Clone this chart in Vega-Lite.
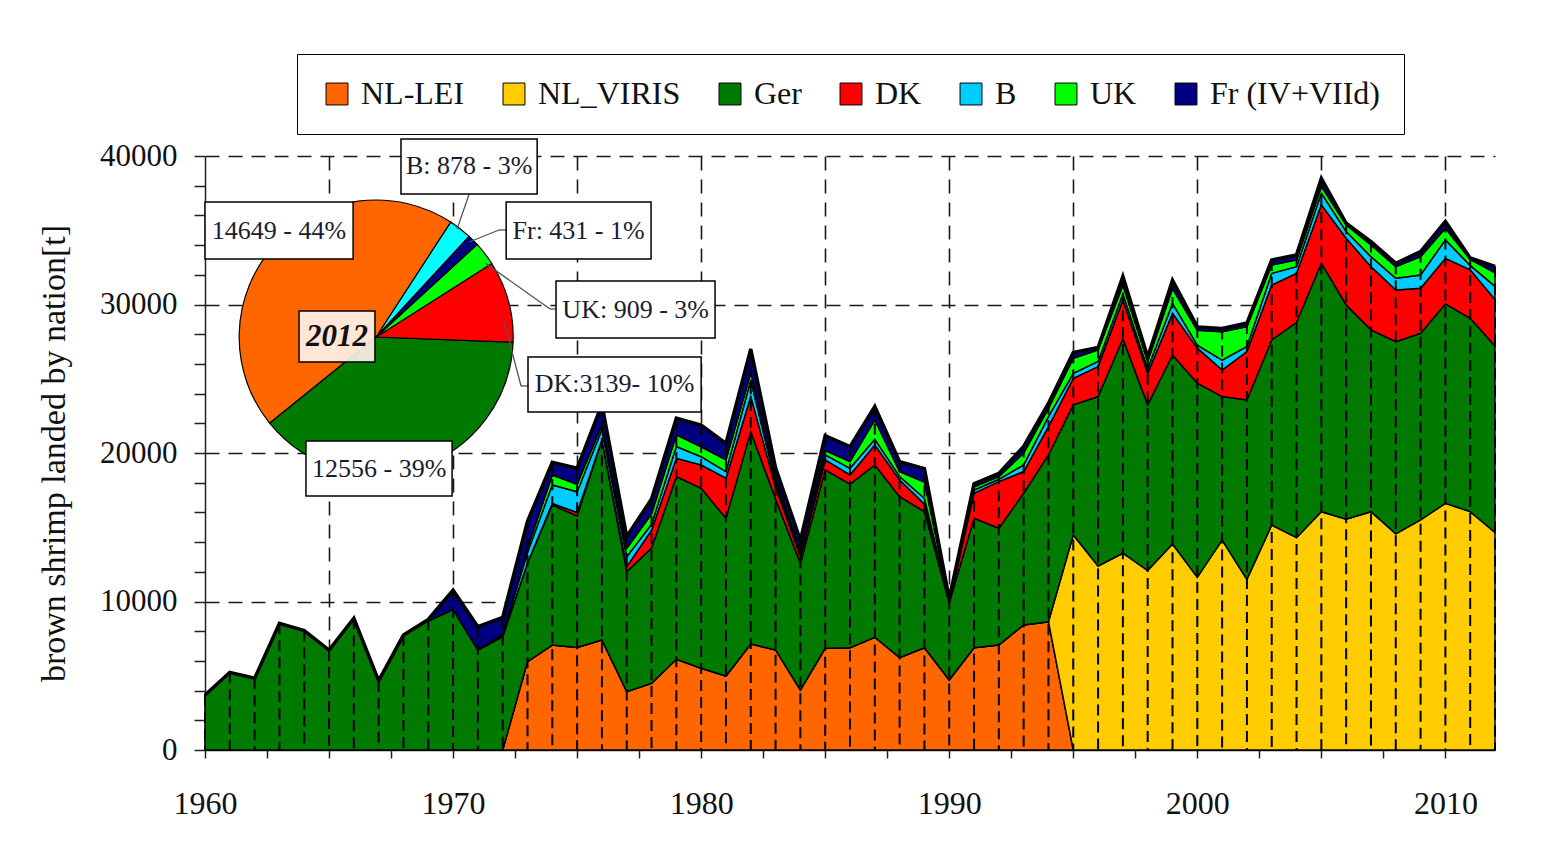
{
  "$schema": "https://vega.github.io/schema/vega-lite/v6.json",
  "width": 1290,
  "height": 594,
  "autosize": {"type": "none"},
  "padding": {"left": 205, "top": 156, "right": 62, "bottom": 99},
  "background": "white",
  "config": {"view": {"stroke": null}, "font": "Liberation Serif"},
  "data": {
    "values": [
      {"year": 1960, "NL-LEI": 0, "NL_VIRIS": 0, "Ger": 3700, "DK": 0, "B": 0, "UK": 0, "Fr (IV+VIId)": 0},
      {"year": 1961, "NL-LEI": 0, "NL_VIRIS": 0, "Ger": 5230, "DK": 0, "B": 0, "UK": 0, "Fr (IV+VIId)": 0},
      {"year": 1962, "NL-LEI": 0, "NL_VIRIS": 0, "Ger": 4830, "DK": 0, "B": 0, "UK": 0, "Fr (IV+VIId)": 0},
      {"year": 1963, "NL-LEI": 0, "NL_VIRIS": 0, "Ger": 8530, "DK": 0, "B": 0, "UK": 0, "Fr (IV+VIId)": 0},
      {"year": 1964, "NL-LEI": 0, "NL_VIRIS": 0, "Ger": 8040, "DK": 0, "B": 0, "UK": 0, "Fr (IV+VIId)": 0},
      {"year": 1965, "NL-LEI": 0, "NL_VIRIS": 0, "Ger": 6730, "DK": 0, "B": 0, "UK": 0, "Fr (IV+VIId)": 0},
      {"year": 1966, "NL-LEI": 0, "NL_VIRIS": 0, "Ger": 8870, "DK": 0, "B": 0, "UK": 0, "Fr (IV+VIId)": 0},
      {"year": 1967, "NL-LEI": 0, "NL_VIRIS": 0, "Ger": 4670, "DK": 0, "B": 0, "UK": 0, "Fr (IV+VIId)": 0},
      {"year": 1968, "NL-LEI": 0, "NL_VIRIS": 0, "Ger": 7740, "DK": 0, "B": 0, "UK": 0, "Fr (IV+VIId)": 0},
      {"year": 1969, "NL-LEI": 0, "NL_VIRIS": 0, "Ger": 8690, "DK": 0, "B": 0, "UK": 0, "Fr (IV+VIId)": 100},
      {"year": 1970, "NL-LEI": 0, "NL_VIRIS": 0, "Ger": 9470, "DK": 0, "B": 0, "UK": 0, "Fr (IV+VIId)": 1300},
      {"year": 1971, "NL-LEI": 0, "NL_VIRIS": 0, "Ger": 6730, "DK": 0, "B": 0, "UK": 0, "Fr (IV+VIId)": 1570},
      {"year": 1972, "NL-LEI": 0, "NL_VIRIS": 0, "Ger": 7630, "DK": 0, "B": 150, "UK": 0, "Fr (IV+VIId)": 1150},
      {"year": 1973, "NL-LEI": 5950, "NL_VIRIS": 0, "Ger": 6650, "DK": 0, "B": 700, "UK": 300, "Fr (IV+VIId)": 1800},
      {"year": 1974, "NL-LEI": 7070, "NL_VIRIS": 0, "Ger": 9430, "DK": 100, "B": 1250, "UK": 670, "Fr (IV+VIId)": 850},
      {"year": 1975, "NL-LEI": 6910, "NL_VIRIS": 0, "Ger": 8850, "DK": 230, "B": 1400, "UK": 500, "Fr (IV+VIId)": 1080},
      {"year": 1976, "NL-LEI": 7410, "NL_VIRIS": 0, "Ger": 13470, "DK": 0, "B": 700, "UK": 300, "Fr (IV+VIId)": 1400},
      {"year": 1977, "NL-LEI": 3930, "NL_VIRIS": 0, "Ger": 8080, "DK": 340, "B": 670, "UK": 560, "Fr (IV+VIId)": 800},
      {"year": 1978, "NL-LEI": 4490, "NL_VIRIS": 0, "Ger": 9110, "DK": 1200, "B": 400, "UK": 700, "Fr (IV+VIId)": 1000},
      {"year": 1979, "NL-LEI": 6110, "NL_VIRIS": 0, "Ger": 12300, "DK": 1230, "B": 790, "UK": 790, "Fr (IV+VIId)": 1120},
      {"year": 1980, "NL-LEI": 5500, "NL_VIRIS": 0, "Ger": 12120, "DK": 1570, "B": 560, "UK": 670, "Fr (IV+VIId)": 1460},
      {"year": 1981, "NL-LEI": 4980, "NL_VIRIS": 0, "Ger": 10620, "DK": 2700, "B": 450, "UK": 780, "Fr (IV+VIId)": 1120},
      {"year": 1982, "NL-LEI": 7140, "NL_VIRIS": 0, "Ger": 14300, "DK": 2360, "B": 1100, "UK": 500, "Fr (IV+VIId)": 1600},
      {"year": 1983, "NL-LEI": 6740, "NL_VIRIS": 0, "Ger": 10160, "DK": 800, "B": 300, "UK": 300, "Fr (IV+VIId)": 700},
      {"year": 1984, "NL-LEI": 4040, "NL_VIRIS": 0, "Ger": 8530, "DK": 450, "B": 200, "UK": 100, "Fr (IV+VIId)": 800},
      {"year": 1985, "NL-LEI": 6850, "NL_VIRIS": 0, "Ger": 12010, "DK": 670, "B": 340, "UK": 300, "Fr (IV+VIId)": 1000},
      {"year": 1986, "NL-LEI": 6890, "NL_VIRIS": 0, "Ger": 11020, "DK": 610, "B": 450, "UK": 450, "Fr (IV+VIId)": 1010},
      {"year": 1987, "NL-LEI": 7590, "NL_VIRIS": 0, "Ger": 11600, "DK": 1350, "B": 380, "UK": 1310, "Fr (IV+VIId)": 900},
      {"year": 1988, "NL-LEI": 6220, "NL_VIRIS": 0, "Ger": 10840, "DK": 1120, "B": 230, "UK": 340, "Fr (IV+VIId)": 670},
      {"year": 1989, "NL-LEI": 6890, "NL_VIRIS": 0, "Ger": 9160, "DK": 500, "B": 400, "UK": 1100, "Fr (IV+VIId)": 900},
      {"year": 1990, "NL-LEI": 4710, "NL_VIRIS": 0, "Ger": 5190, "DK": 0, "B": 100, "UK": 100, "Fr (IV+VIId)": 100},
      {"year": 1991, "NL-LEI": 6890, "NL_VIRIS": 0, "Ger": 8710, "DK": 1690, "B": 220, "UK": 220, "Fr (IV+VIId)": 200},
      {"year": 1992, "NL-LEI": 7070, "NL_VIRIS": 0, "Ger": 7860, "DK": 3140, "B": 160, "UK": 180, "Fr (IV+VIId)": 220},
      {"year": 1993, "NL-LEI": 8420, "NL_VIRIS": 0, "Ger": 8870, "DK": 1460, "B": 450, "UK": 790, "Fr (IV+VIId)": 450},
      {"year": 1994, "NL-LEI": 8640, "NL_VIRIS": 0, "Ger": 11230, "DK": 1910, "B": 670, "UK": 560, "Fr (IV+VIId)": 340},
      {"year": 1995, "NL-LEI": 0, "NL_VIRIS": 14480, "Ger": 8760, "DK": 1790, "B": 340, "UK": 1010, "Fr (IV+VIId)": 380},
      {"year": 1996, "NL-LEI": 0, "NL_VIRIS": 12390, "Ger": 11410, "DK": 2020, "B": 340, "UK": 790, "Fr (IV+VIId)": 150},
      {"year": 1997, "NL-LEI": 0, "NL_VIRIS": 13250, "Ger": 14450, "DK": 2600, "B": 400, "UK": 600, "Fr (IV+VIId)": 600},
      {"year": 1998, "NL-LEI": 0, "NL_VIRIS": 12080, "Ger": 11160, "DK": 2130, "B": 300, "UK": 500, "Fr (IV+VIId)": 300},
      {"year": 1999, "NL-LEI": 0, "NL_VIRIS": 13870, "Ger": 12730, "DK": 2800, "B": 670, "UK": 1000, "Fr (IV+VIId)": 560},
      {"year": 2000, "NL-LEI": 0, "NL_VIRIS": 11630, "Ger": 13070, "DK": 2360, "B": 200, "UK": 1000, "Fr (IV+VIId)": 230},
      {"year": 2001, "NL-LEI": 0, "NL_VIRIS": 14140, "Ger": 9660, "DK": 1790, "B": 670, "UK": 1900, "Fr (IV+VIId)": 230},
      {"year": 2002, "NL-LEI": 0, "NL_VIRIS": 11490, "Ger": 12080, "DK": 3260, "B": 340, "UK": 1350, "Fr (IV+VIId)": 230},
      {"year": 2003, "NL-LEI": 0, "NL_VIRIS": 15150, "Ger": 12460, "DK": 3700, "B": 790, "UK": 560, "Fr (IV+VIId)": 340},
      {"year": 2004, "NL-LEI": 0, "NL_VIRIS": 14300, "Ger": 14500, "DK": 3300, "B": 450, "UK": 450, "Fr (IV+VIId)": 340},
      {"year": 2005, "NL-LEI": 0, "NL_VIRIS": 16050, "Ger": 16730, "DK": 3930, "B": 790, "UK": 450, "Fr (IV+VIId)": 550},
      {"year": 2006, "NL-LEI": 0, "NL_VIRIS": 15540, "Ger": 14430, "DK": 4490, "B": 450, "UK": 450, "Fr (IV+VIId)": 110},
      {"year": 2007, "NL-LEI": 0, "NL_VIRIS": 16050, "Ger": 12240, "DK": 4260, "B": 670, "UK": 790, "Fr (IV+VIId)": 230},
      {"year": 2008, "NL-LEI": 0, "NL_VIRIS": 14550, "Ger": 12950, "DK": 3480, "B": 790, "UK": 780, "Fr (IV+VIId)": 230},
      {"year": 2009, "NL-LEI": 0, "NL_VIRIS": 15490, "Ger": 12570, "DK": 3030, "B": 900, "UK": 1230, "Fr (IV+VIId)": 340},
      {"year": 2010, "NL-LEI": 0, "NL_VIRIS": 16610, "Ger": 13430, "DK": 3070, "B": 1240, "UK": 790, "Fr (IV+VIId)": 450},
      {"year": 2011, "NL-LEI": 0, "NL_VIRIS": 16050, "Ger": 13020, "DK": 3260, "B": 300, "UK": 400, "Fr (IV+VIId)": 100},
      {"year": 2012, "NL-LEI": 0, "NL_VIRIS": 14649, "Ger": 12556, "DK": 3139, "B": 878, "UK": 909, "Fr (IV+VIId)": 431}
    ]
  },
  "layer": [
    {
      "transform": [
        {"fold": ["NL-LEI", "NL_VIRIS", "Ger", "DK", "B", "UK", "Fr (IV+VIId)"], "as": ["nation", "t"]},
        {"calculate": "indexof(['NL-LEI','NL_VIRIS','Ger','DK','B','UK','Fr (IV+VIId)'], datum.nation)", "as": "ord"}
      ],
      "mark": {"type": "area", "stroke": "black", "strokeWidth": 1.5, "strokeJoin": "miter"},
      "encoding": {
        "x": {
          "field": "year", "type": "quantitative",
          "scale": {"domain": [1960, 2012], "nice": false, "zero": false},
          "axis": {
            "values": [1960, 1962.5, 1965, 1967.5, 1970, 1972.5, 1975, 1977.5, 1980, 1982.5, 1985, 1987.5, 1990, 1992.5, 1995, 1997.5, 2000, 2002.5, 2005, 2007.5, 2010],
            "tickCount": 40,
            "format": "d",
            "labelExpr": "datum.value % 10 === 0 ? datum.label : ''",
            "title": null,
            "grid": true,
            "gridDash": [14, 9],
            "gridColor": "#1a1a1a",
            "gridWidth": 1.6,
            "gridOpacity": {"condition": {"test": "datum.value % 5 === 0 && datum.value > 1960", "value": 1}, "value": 0},
            "tickSize": 8, "tickWidth": 1.5, "tickColor": "#222",
            "domainColor": "#222", "domainWidth": 1.5,
            "labelFont": "Liberation Serif", "labelFontSize": 32, "labelColor": "#111",
            "labelPadding": 30, "labelOverlap": false, "labelFlush": false
          }
        },
        "y": {
          "field": "t", "type": "quantitative", "stack": "zero",
          "scale": {"domain": [0, 40000], "nice": false},
          "axis": {
            "values": [0, 2000, 4000, 6000, 8000, 10000, 12000, 14000, 16000, 18000, 20000, 22000, 24000, 26000, 28000, 30000, 32000, 34000, 36000, 38000, 40000],
            "tickCount": 40,
            "format": "d",
            "labelExpr": "datum.value % 10000 === 0 ? datum.label : ''",
            "title": "brown shrimp landed by nation[t]",
            "titleFont": "Liberation Serif", "titleFontSize": 34, "titleFontWeight": "normal", "titleColor": "#111",
            "titlePadding": 28,
            "grid": true,
            "gridDash": [14, 9],
            "gridColor": "#1a1a1a",
            "gridWidth": 1.6,
            "gridOpacity": {"condition": {"test": "datum.value % 10000 === 0 && datum.value > 0", "value": 1}, "value": 0},
            "tickSize": 11, "tickWidth": 1.5, "tickColor": "#222",
            "domainColor": "#222", "domainWidth": 1.5,
            "labelFont": "Liberation Serif", "labelFontSize": 31, "labelColor": "#111",
            "labelPadding": 17, "labelOverlap": false
          }
        },
        "color": {
          "field": "nation", "type": "nominal",
          "scale": {
            "domain": ["NL-LEI", "NL_VIRIS", "Ger", "DK", "B", "UK", "Fr (IV+VIId)"],
            "range": ["#FF6600", "#FFCC00", "#007A00", "#FF0000", "#00CCFF", "#00FF00", "#000080"]
          },
          "legend": {
            "orient": "none", "legendX": 92, "legendY": -102,
            "direction": "horizontal", "title": null,
            "symbolType": "square", "symbolSize": 480,
            "symbolStrokeColor": "black", "symbolStrokeWidth": 1,
            "labelFont": "Liberation Serif", "labelFontSize": 32, "labelColor": "#111",
            "labelOffset": 8, "columnPadding": 33, "labelLimit": 400,
            "padding": 24, "strokeColor": "black", "fillColor": "white"
          }
        },
        "order": {"field": "ord", "type": "quantitative", "sort": "ascending"}
      }
    },
    {
      "transform": [
        {"fold": ["NL-LEI", "NL_VIRIS", "Ger", "DK", "B", "UK", "Fr (IV+VIId)"], "as": ["nation", "t"]}
      ],
      "mark": {"type": "line", "color": "black", "strokeWidth": 3.5, "strokeJoin": "miter"},
      "encoding": {
        "x": {"field": "year", "type": "quantitative"},
        "y": {"aggregate": "sum", "field": "t", "type": "quantitative"}
      }
    },
    {
      "transform": [
        {"fold": ["NL-LEI", "NL_VIRIS", "Ger", "DK", "B", "UK", "Fr (IV+VIId)"], "as": ["nation", "t"]}
      ],
      "mark": {"type": "rule", "color": "black", "strokeWidth": 2, "strokeDash": [11, 6]},
      "encoding": {
        "x": {"field": "year", "type": "quantitative"},
        "y": {"aggregate": "sum", "field": "t", "type": "quantitative"},
        "y2": {"datum": 0}
      }
    },
    {
      "transform": [
        {"filter": "datum.year === 2012"},
        {"fold": ["NL_VIRIS", "Ger", "DK", "B", "UK", "Fr (IV+VIId)"], "as": ["nation", "t"]},
        {"calculate": "indexof(['B','Fr (IV+VIId)','UK','DK','Ger','NL_VIRIS'], datum.nation)", "as": "po"},
        {"stack": "t", "groupby": [], "sort": [{"field": "po", "order": "ascending"}], "offset": "normalize", "as": ["s0", "s1"]}
      ],
      "mark": {"type": "arc", "outerRadius": 137, "stroke": "black", "strokeWidth": 1.2},
      "encoding": {
        "x": {"datum": 1966.9, "type": "quantitative", "stack": null},
        "y": {"datum": 27810, "type": "quantitative", "stack": null},
        "theta": {"field": "s0", "type": "quantitative", "scale": {"domain": [0, 1], "range": [0.576, 6.859]}},
        "theta2": {"field": "s1"},
        "color": {
          "field": "nation", "type": "nominal",
          "scale": {
            "domain": ["NL_VIRIS", "Ger", "DK", "UK", "Fr (IV+VIId)", "B"],
            "range": ["#FF6600", "#007A00", "#FF0000", "#00FF00", "#000080", "#00FFFF"]
          },
          "legend": null
        }
      }
    },
    {"data": {"values": [{}]}, "mark": {"type": "rule", "color": "#555", "strokeWidth": 1.3},
     "encoding": {"x": {"datum": 1970.65, "type": "quantitative"}, "y": {"datum": 37441, "type": "quantitative"}, "x2": {"datum": 1970.16}, "y2": {"datum": 35084}}},
    {"data": {"values": [{}]}, "mark": {"type": "rule", "color": "#555", "strokeWidth": 1.3},
     "encoding": {"x": {"datum": 1972.14, "type": "quantitative"}, "y": {"datum": 35017, "type": "quantitative"}, "x2": {"datum": 1971.85}, "y2": {"datum": 35017}}},
    {"data": {"values": [{}]}, "mark": {"type": "rule", "color": "#555", "strokeWidth": 1.3},
     "encoding": {"x": {"datum": 1971.85, "type": "quantitative"}, "y": {"datum": 35017, "type": "quantitative"}, "x2": {"datum": 1970.65}, "y2": {"datum": 34209}}},
    {"data": {"values": [{}]}, "mark": {"type": "rule", "color": "#555", "strokeWidth": 1.3},
     "encoding": {"x": {"datum": 1974.15, "type": "quantitative"}, "y": {"datum": 29697, "type": "quantitative"}, "x2": {"datum": 1973.91}, "y2": {"datum": 29697}}},
    {"data": {"values": [{}]}, "mark": {"type": "rule", "color": "#555", "strokeWidth": 1.3},
     "encoding": {"x": {"datum": 1973.91, "type": "quantitative"}, "y": {"datum": 29697, "type": "quantitative"}, "x2": {"datum": 1971.29}, "y2": {"datum": 32795}}},
    {"data": {"values": [{}]}, "mark": {"type": "rule", "color": "#555", "strokeWidth": 1.3},
     "encoding": {"x": {"datum": 1973.02, "type": "quantitative"}, "y": {"datum": 24512, "type": "quantitative"}, "x2": {"datum": 1972.74}, "y2": {"datum": 24512}}},
    {"data": {"values": [{}]}, "mark": {"type": "rule", "color": "#555", "strokeWidth": 1.3},
     "encoding": {"x": {"datum": 1972.74, "type": "quantitative"}, "y": {"datum": 24512, "type": "quantitative"}, "x2": {"datum": 1972.06}, "y2": {"datum": 28822}}},

    {"data": {"values": [{}]}, "mark": {"type": "rect", "fill": "white", "stroke": "black", "strokeWidth": 1.5},
     "encoding": {"x": {"datum": 1960.0, "type": "quantitative"}, "x2": {"datum": 1965.97}, "y": {"datum": 36902, "type": "quantitative"}, "y2": {"datum": 33064}}},
    {"data": {"values": [{}]}, "mark": {"type": "text", "text": "14649 - 44%", "font": "Liberation Serif", "fontSize": 26, "color": "#1c1c30", "align": "center", "baseline": "middle"},
     "encoding": {"x": {"datum": 1962.98, "type": "quantitative"}, "y": {"datum": 34983, "type": "quantitative"}}},

    {"data": {"values": [{}]}, "mark": {"type": "rect", "fill": "white", "stroke": "black", "strokeWidth": 1.5},
     "encoding": {"x": {"datum": 1967.9, "type": "quantitative"}, "x2": {"datum": 1973.39}, "y": {"datum": 41145, "type": "quantitative"}, "y2": {"datum": 37441}}},
    {"data": {"values": [{}]}, "mark": {"type": "text", "text": "B: 878 - 3%", "font": "Liberation Serif", "fontSize": 26, "color": "#1c1c30", "align": "center", "baseline": "middle"},
     "encoding": {"x": {"datum": 1970.65, "type": "quantitative"}, "y": {"datum": 39293, "type": "quantitative"}}},

    {"data": {"values": [{}]}, "mark": {"type": "rect", "fill": "white", "stroke": "black", "strokeWidth": 1.5},
     "encoding": {"x": {"datum": 1972.14, "type": "quantitative"}, "x2": {"datum": 1977.98}, "y": {"datum": 36902, "type": "quantitative"}, "y2": {"datum": 33064}}},
    {"data": {"values": [{}]}, "mark": {"type": "text", "text": "Fr: 431 - 1%", "font": "Liberation Serif", "fontSize": 26, "color": "#1c1c30", "align": "center", "baseline": "middle"},
     "encoding": {"x": {"datum": 1975.06, "type": "quantitative"}, "y": {"datum": 34983, "type": "quantitative"}}},

    {"data": {"values": [{}]}, "mark": {"type": "rect", "fill": "white", "stroke": "black", "strokeWidth": 1.5},
     "encoding": {"x": {"datum": 1974.15, "type": "quantitative"}, "x2": {"datum": 1980.56}, "y": {"datum": 31582, "type": "quantitative"}, "y2": {"datum": 27744}}},
    {"data": {"values": [{}]}, "mark": {"type": "text", "text": "UK: 909 - 3%", "font": "Liberation Serif", "fontSize": 26, "color": "#1c1c30", "align": "center", "baseline": "middle"},
     "encoding": {"x": {"datum": 1977.36, "type": "quantitative"}, "y": {"datum": 29663, "type": "quantitative"}}},

    {"data": {"values": [{}]}, "mark": {"type": "rect", "fill": "white", "stroke": "black", "strokeWidth": 1.5},
     "encoding": {"x": {"datum": 1973.02, "type": "quantitative"}, "x2": {"datum": 1980.0}, "y": {"datum": 26465, "type": "quantitative"}, "y2": {"datum": 22761}}},
    {"data": {"values": [{}]}, "mark": {"type": "text", "text": "DK:3139- 10%", "font": "Liberation Serif", "fontSize": 26, "color": "#1c1c30", "align": "center", "baseline": "middle"},
     "encoding": {"x": {"datum": 1976.51, "type": "quantitative"}, "y": {"datum": 24613, "type": "quantitative"}}},

    {"data": {"values": [{}]}, "mark": {"type": "rect", "fill": "white", "stroke": "black", "strokeWidth": 1.5},
     "encoding": {"x": {"datum": 1964.07, "type": "quantitative"}, "x2": {"datum": 1969.96}, "y": {"datum": 20808, "type": "quantitative"}, "y2": {"datum": 17104}}},
    {"data": {"values": [{}]}, "mark": {"type": "text", "text": "12556 - 39%", "font": "Liberation Serif", "fontSize": 26, "color": "#1c1c30", "align": "center", "baseline": "middle"},
     "encoding": {"x": {"datum": 1967.02, "type": "quantitative"}, "y": {"datum": 18956, "type": "quantitative"}}},

    {"data": {"values": [{}]}, "mark": {"type": "rect", "fill": "#fff4ec", "fillOpacity": 0.9, "stroke": "black", "strokeWidth": 1.5},
     "encoding": {"x": {"datum": 1963.79, "type": "quantitative"}, "x2": {"datum": 1966.85}, "y": {"datum": 29562, "type": "quantitative"}, "y2": {"datum": 26128}}},
    {"data": {"values": [{}]}, "mark": {"type": "text", "text": "2012", "font": "Liberation Serif", "fontSize": 31, "fontWeight": "bold", "fontStyle": "italic", "color": "#111", "align": "center", "baseline": "middle"},
     "encoding": {"x": {"datum": 1965.32, "type": "quantitative"}, "y": {"datum": 27845, "type": "quantitative"}}}
  ],
  "resolve": {"scale": {"color": "independent"}}
}
